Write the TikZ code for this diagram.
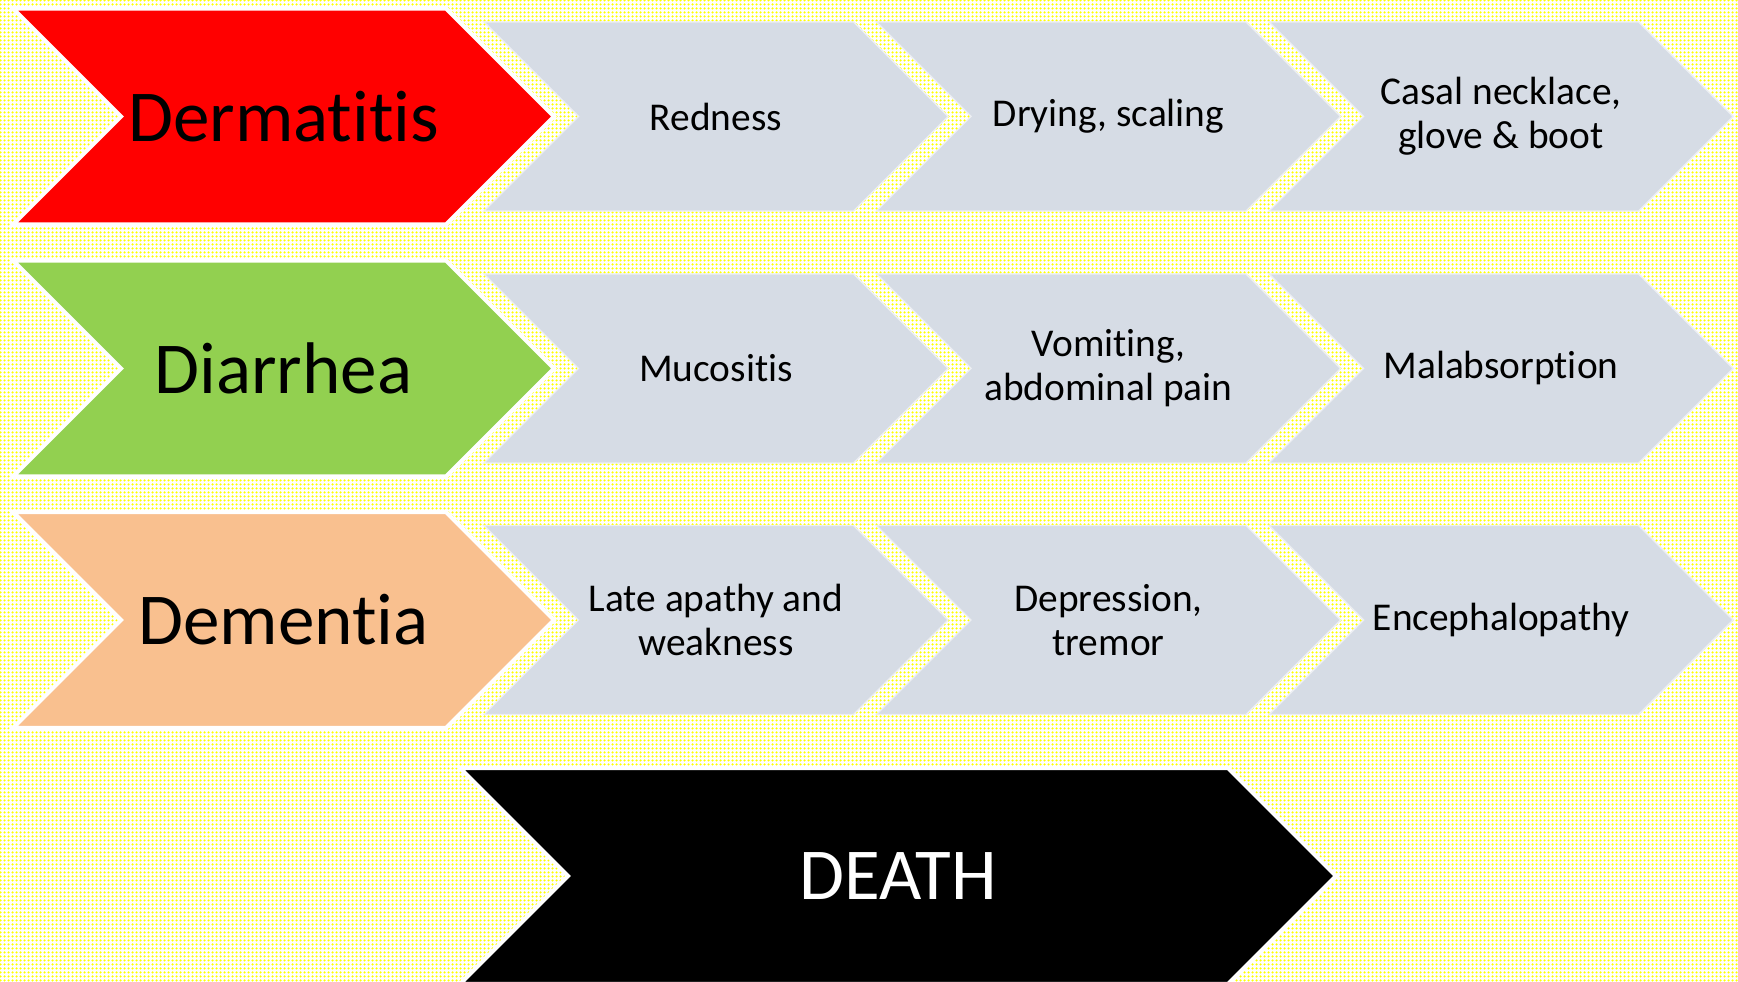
\documentclass[tikz,border=0pt]{standalone}
\usepackage{fontspec}
\setmainfont{Carlito}[Ligatures=NoCommon]
\usetikzlibrary{patterns,positioning}

\definecolor{dermred}{HTML}{FF0000}
\definecolor{diargreen}{HTML}{92D050}
\definecolor{dempeach}{HTML}{F9C08F}
\definecolor{stagegray}{HTML}{D6DCE5}

% dotted yellow paper
\pgfdeclarepatternformonly{yellowdots}{\pgfqpoint{0pt}{0pt}}{\pgfqpoint{1.138pt}{1.138pt}}{\pgfqpoint{1.138pt}{1.138pt}}{%
  \pgfpathcircle{\pgfqpoint{0.569pt}{0.569pt}}{0.44pt}\pgfusepath{fill}}

% chevron: left x, centre y, width, half height
\newcommand{\chevron}[4]{(#1,#2-#4) -- ++(#3-#4,0) -- ++(#4,#4) -- ++(-#4,#4) -- ++(-#3+#4,0) -- ++(#4,-#4) -- cycle}

\begin{document}
\begin{tikzpicture}[x=0.01cm,y=-0.01cm,
  every node/.style={align=center,inner sep=0pt},
  disease/.style={draw=white,line width=1.2pt,line join=miter},
  stage/.style={fill=stagegray,draw=stagegray!45!white,line width=0.4pt},
  bigtext/.style={font=\fontsize{20.8}{24}\selectfont},
  smalltext/.style={font=\fontsize{11.2}{12.5}\selectfont}]
\useasboundingbox (0,0) rectangle (1738,982);
\fill[white] (0,0) rectangle (1738,982);
\fill[pattern=yellowdots,pattern color=yellow] (0,0) rectangle (1738,982);

% Dermatitis row
\path[disease,fill=dermred] \chevron{13}{116.5}{541}{108};
\path[stage] \chevron{484}{116.5}{464}{94.5};
\path[stage] \chevron{876.5}{116.5}{464}{94.5};
\path[stage] \chevron{1269}{116.5}{464}{94.5};
\node[bigtext] (derm) at (283.5,116.5) {Dermatitis};
\node[smalltext] (derm1) at (716,116.5) {Redness};
\node[smalltext] (derm2) at (1108.5,116.5) {Drying, scaling};
\node[smalltext] (derm3) at (1501,116.5) {Casal necklace,\\glove \& boot};

% Diarrhea row
\path[disease,fill=diargreen] \chevron{13}{368.5}{541}{108};
\path[stage] \chevron{484}{368.5}{464}{94.5};
\path[stage] \chevron{876.5}{368.5}{464}{94.5};
\path[stage] \chevron{1269}{368.5}{464}{94.5};
\node[bigtext] (diar) at (283.5,368.5) {Diarrhea};
\node[smalltext] (diar1) at (716,368.5) {Mucositis};
\node[smalltext] (diar2) at (1108.5,368.5) {Vomiting,\\abdominal pain};
\node[smalltext] (diar3) at (1501,368.5) {Malabsorption};

% Dementia row
\path[disease,fill=dempeach] \chevron{13}{620}{541}{108};
\path[stage] \chevron{484}{620}{464}{94.5};
\path[stage] \chevron{876.5}{620}{464}{94.5};
\path[stage] \chevron{1269}{620}{464}{94.5};
\node[bigtext] (dem) at (283.5,620) {Dementia};
\node[smalltext] (dem1) at (716,620) {Late apathy and\\weakness};
\node[smalltext] (dem2) at (1108.5,620) {Depression,\\tremor};
\node[smalltext] (dem3) at (1501,620) {Encephalopathy};

% end point
\path[disease,fill=black] \chevron{460}{876}{876}{108};
\node[bigtext,text=white] (death) at (898,876) {DEATH};
\end{tikzpicture}
\end{document}
